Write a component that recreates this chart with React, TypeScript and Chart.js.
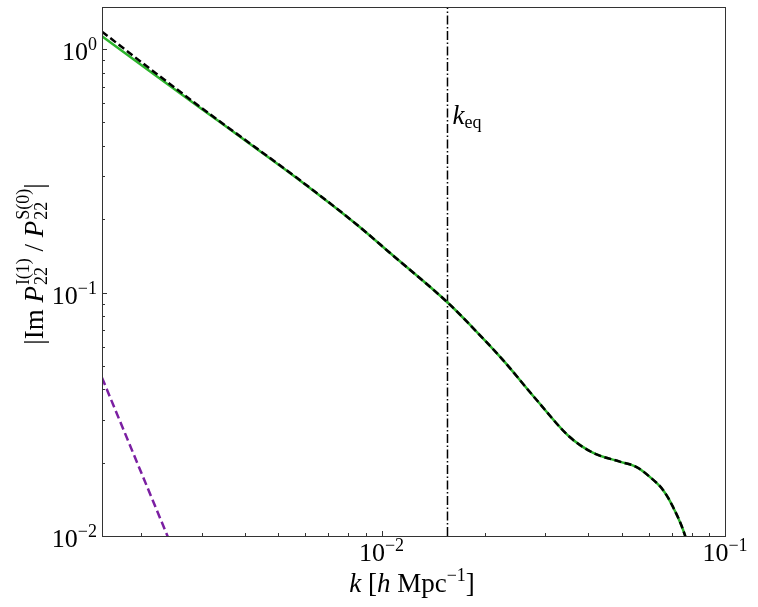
import React, { useEffect, useRef } from "react";
import { Chart, registerables } from "chart.js";

Chart.register(...registerables);

// wavenumber k [h/Mpc]
const K_VALUES = [0.001535, 0.00212, 0.00296, 0.00414, 0.00567, 0.00848, 0.01057, 0.0156, 0.01833, 0.02255, 0.02829, 0.03532, 0.0412, 0.0494, 0.0553, 0.0604, 0.0659, 0.0705, 0.0764, 0.0794];
// |Im P22^I(1) / P22^S(0)| full (black dashed)
const RATIO_FULL = [1.18, 0.83, 0.58, 0.41, 0.296, 0.19, 0.1457, 0.0908, 0.0723, 0.0529, 0.0362, 0.0255, 0.022, 0.0202, 0.0192, 0.0175, 0.0155, 0.0132, 0.0101, 0.0082];
// approximation (green solid)
const RATIO_APPROX = [1.13, 0.81, 0.575, 0.408, 0.295, 0.19, 0.1457, 0.0908, 0.0723, 0.0529, 0.0362, 0.0255, 0.022, 0.0202, 0.0192, 0.0175, 0.0155, 0.0132, 0.0101, 0.0082];
// secondary contribution (purple dashed)
const K_PURPLE = [0.001535, 0.0025];
const RATIO_PURPLE = [0.0447, 0.00847];
// equality scale
const K_EQ = 0.01556;

const X_MIN = 0.001535;
const X_MAX = 0.1;
const Y_MIN = 0.01;
const Y_MAX = 1.49;

const X_MAJOR = [0.01, 0.1];
const X_MAJOR_EXP = ["−2", "−1"];
const Y_MAJOR = [1, 0.1, 0.01];
const Y_MAJOR_EXP = ["0", "−1", "−2"];

const SERIF = "'Liberation Serif', 'DejaVu Serif', serif";
const F_TICK = `26px ${SERIF}`;
const F_MAIN = `27px ${SERIF}`;
const F_IT = `italic 27px ${SERIF}`;
const F_SMALL = `18px ${SERIF}`;

type Seg = { t: string; f: string; dy: number } | { sub: string; sup: string; f: string; dsub: number; dsup: number };

function segWidth(ctx: CanvasRenderingContext2D, s: Seg) {
  ctx.font = s.f;
  if ("t" in s) return ctx.measureText(s.t).width;
  return Math.max(ctx.measureText(s.sub).width, ctx.measureText(s.sup).width) + 1;
}

function drawRich(ctx: CanvasRenderingContext2D, segs: Seg[], x: number, y: number, align: "left" | "center" | "right") {
  let w = 0;
  for (const s of segs) w += segWidth(ctx, s);
  let cx = align === "left" ? x : align === "center" ? x - w / 2 : x - w;
  ctx.textAlign = "left";
  ctx.textBaseline = "alphabetic";
  for (const s of segs) {
    ctx.font = s.f;
    if ("t" in s) {
      ctx.fillText(s.t, cx, y + s.dy);
    } else {
      ctx.fillText(s.sub, cx + 1, y + s.dsub);
      ctx.fillText(s.sup, cx + 1, y + s.dsup);
    }
    cx += segWidth(ctx, s);
  }
}

const decorPlugin = {
  id: "decor",
  afterDatasetsDraw(chart: any) {
    const ctx: CanvasRenderingContext2D = chart.ctx;
    const { left, right, top, bottom } = chart.chartArea;
    const xs = chart.scales.x;
    const ys = chart.scales.y;
    ctx.save();
    // frame
    ctx.strokeStyle = "#333";
    ctx.lineWidth = 1;
    ctx.strokeRect(Math.round(left) + 0.5, Math.round(top) + 0.5, Math.round(right - left), Math.round(bottom - top));

    // ticks (inward, bottom & left)
    ctx.beginPath();
    for (let d = -3; d <= -1; d++) {
      for (let m = 1; m <= 9; m++) {
        const v = m * Math.pow(10, d);
        if (v < X_MIN - 1e-9 || v > X_MAX + 1e-9) continue;
        const px = Math.round(xs.getPixelForValue(v)) + 0.5;
        const len = m === 1 ? 5 : 3;
        ctx.moveTo(px, bottom);
        ctx.lineTo(px, bottom - len);
      }
    }
    for (let d = -2; d <= 0; d++) {
      for (let m = 1; m <= 9; m++) {
        const v = m * Math.pow(10, d);
        if (v < Y_MIN - 1e-9 || v > Y_MAX + 1e-9) continue;
        const py = Math.round(ys.getPixelForValue(v)) + 0.5;
        const len = m === 1 ? 5 : 3;
        ctx.moveTo(left, py);
        ctx.lineTo(left + len, py);
      }
    }
    ctx.stroke();

    ctx.fillStyle = "#000";
    // x tick labels
    X_MAJOR.forEach((v, i) => {
      const px = xs.getPixelForValue(v);
      drawRich(ctx, [
        { t: "10", f: F_TICK, dy: 0 },
        { t: X_MAJOR_EXP[i], f: F_SMALL, dy: -10 },
      ], px, 561, "center");
    });
    // y tick labels
    Y_MAJOR.forEach((v, i) => {
      const py = ys.getPixelForValue(v);
      drawRich(ctx, [
        { t: "10", f: F_TICK, dy: 0 },
        { t: Y_MAJOR_EXP[i], f: F_SMALL, dy: -10 },
      ], 97, py + 11, "right");
    });

    // x title
    drawRich(ctx, [
      { t: "k", f: F_IT, dy: 0 },
      { t: " [", f: F_MAIN, dy: 0 },
      { t: "h", f: F_IT, dy: 0 },
      { t: " Mpc", f: F_MAIN, dy: 0 },
      { t: "−1", f: F_SMALL, dy: -11 },
      { t: "]", f: F_MAIN, dy: 0 },
    ], 412, 592, "center");

    // y title (rotated)
    ctx.save();
    ctx.translate(43, 264);
    ctx.rotate(-Math.PI / 2);
    drawRich(ctx, [
      { t: "|Im ", f: F_MAIN, dy: 0 },
      { t: "P", f: F_IT, dy: 0 },
      { sub: "22", sup: "I(1)", f: F_SMALL, dsub: 4, dsup: -14 },
      { t: " / ", f: F_MAIN, dy: 0 },
      { t: "P", f: F_IT, dy: 0 },
      { sub: "22", sup: "S(0)", f: F_SMALL, dsub: 4, dsup: -14 },
      { t: "|", f: F_MAIN, dy: 0 },
    ], 0, 0, "center");
    ctx.restore();

    // k_eq label
    const kx = xs.getPixelForValue(K_EQ);
    drawRich(ctx, [
      { t: "k", f: F_IT, dy: 0 },
      { t: "eq", f: F_SMALL, dy: 4 },
    ], kx + 5, 124, "left");

    ctx.restore();
  },
};

export default function App() {
  const ref = useRef<HTMLCanvasElement | null>(null);
  useEffect(() => {
    document.body.style.margin = "0";
    const canvas = ref.current!;
    const chart = new Chart(canvas, {
      type: "line",
      data: {
        datasets: [
          {
            label: "full",
            data: K_VALUES.map((k, i) => ({ x: k, y: RATIO_FULL[i] })),
            borderColor: "#000",
            borderWidth: 2.5,
            borderDash: [7, 3.5],
            pointRadius: 0,
            cubicInterpolationMode: "monotone",
            order: 0,
          },
          {
            label: "approx",
            data: K_VALUES.map((k, i) => ({ x: k, y: RATIO_APPROX[i] })),
            borderColor: "rgb(44,180,44)",
            borderWidth: 2.5,
            pointRadius: 0,
            cubicInterpolationMode: "monotone",
            order: 1,
          },
          {
            label: "purple",
            data: K_PURPLE.map((k, i) => ({ x: k, y: RATIO_PURPLE[i] })),
            borderColor: "rgb(123,31,162)",
            borderWidth: 2.5,
            borderDash: [8, 4],
            pointRadius: 0,
            order: 2,
          },
          {
            label: "keq",
            data: [{ x: K_EQ, y: Y_MIN }, { x: K_EQ, y: Y_MAX }],
            borderColor: "#000",
            borderWidth: 1.5,
            borderDash: [9, 2.5, 1.5, 2.5],
            pointRadius: 0,
            order: 3,
          },
        ],
      },
      options: {
        responsive: false,
        animation: false,
        layout: { padding: { left: 102, right: 33, top: 7, bottom: 71 } },
        plugins: { legend: { display: false }, tooltip: { enabled: false } },
        scales: {
          x: { type: "logarithmic", min: X_MIN, max: X_MAX, display: false },
          y: { type: "logarithmic", min: Y_MIN, max: Y_MAX, display: false },
        },
      },
      plugins: [decorPlugin],
    });
    return () => chart.destroy();
  }, []);
  return (
    <div style={{ position: "absolute", left: 0, top: 0, width: 758, height: 607, background: "#fff" }}>
      <canvas ref={ref} width={758} height={607} style={{ display: "block" }} />
    </div>
  );
}
